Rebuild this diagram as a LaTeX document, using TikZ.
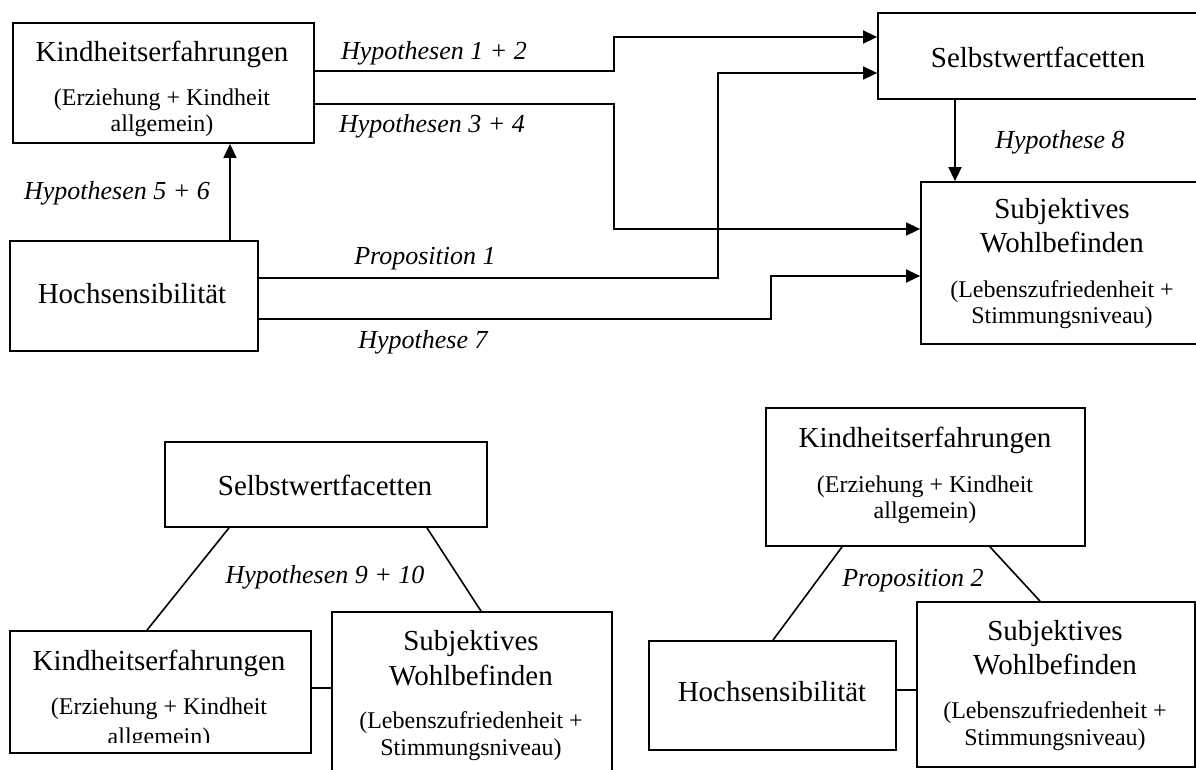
\documentclass[tikz,border=0pt]{standalone}
\usepackage{fontspec}
\setmainfont{Liberation Serif}
\usetikzlibrary{arrows.meta,calc}
\begin{document}
\begin{tikzpicture}[x=1pt,y=-1pt,
  box/.style={draw,line width=1.8pt,inner sep=0pt},
  conn/.style={line width=1.6pt},
  arr/.style={conn,-{Triangle[length=14pt,width=13pt]}},
  big/.style={font=\fontsize{29}{33}\selectfont,anchor=base,inner sep=0pt},
  small/.style={font=\fontsize{24}{28}\selectfont,anchor=base,inner sep=0pt},
  lab/.style={font=\fontsize{26}{30}\selectfont\itshape,anchor=base,inner sep=0pt}]
\useasboundingbox (0,0) rectangle (1196,769);

% ---------- top diagram ----------
\node[box,minimum width=301pt,minimum height=120pt] (k1) at (163.5,83) {};
\node[big]   (k1a) at (162,61)  {Kindheitserfahrungen};
\node[small] (k1b) at (162,105) {(Erziehung + Kindheit};
\node[small] (k1c) at (162,131) {allgemein)};

\node[box,minimum width=248pt,minimum height=110pt] (h1) at (134,296) {};
\node[big] (h1a) at (132,303) {Hochsensibilität};

\node[box,minimum width=332pt,minimum height=86pt] (s1) at (1044,56) {};
\node[big] (s1a) at (1038,67) {Selbstwertfacetten};

\node[box,minimum width=289pt,minimum height=162pt] (sw1) at (1065.5,263) {};
\node[big]   (sw1a) at (1062,218) {Subjektives};
\node[big]   (sw1b) at (1062,252) {Wohlbefinden};
\node[small] (sw1c) at (1062,297) {(Lebenszufriedenheit +};
\node[small] (sw1d) at (1062,323) {Stimmungsniveau)};

\draw[arr] (k1.east |- 0,71) -- (614,71) -- (614,37) -- (s1.west |- 0,37);
\draw[arr] (k1.east |- 0,104) -- (614,104) -- (614,229) -- (sw1.west |- 0,229);
\draw[arr] (h1.east |- 0,278) -- (718,278) -- (718,73) -- (s1.west |- 0,73);
\draw[arr] (h1.east |- 0,319) -- (771,319) -- (771,276) -- (sw1.west |- 0,276);
\draw[arr] (h1.north -| 230,0) -- (k1.south -| 230,0);
\draw[arr] (s1.south -| 955,0) -- (sw1.north -| 955,0);

\node[lab] (l12) at (434,59)  {Hypothesen 1 + 2};
\node[lab] (l34) at (432,132) {Hypothesen 3 + 4};
\node[lab] (l56) at (117,199) {Hypothesen 5 + 6};
\node[lab] (lp1) at (425,264) {Proposition 1};
\node[lab] (l7)  at (423,348) {Hypothese 7};
\node[lab] (l8)  at (1060,148) {Hypothese 8};

% ---------- bottom left diagram ----------
\node[box,minimum width=322pt,minimum height=85pt] (s2) at (326,484.5) {};
\node[big] (s2a) at (325,495) {Selbstwertfacetten};

\node[box,minimum width=301pt,minimum height=122pt] (k2) at (160.5,692) {};
\node[big]   (k2a) at (159,670) {Kindheitserfahrungen};
\node[small] (k2b) at (159,714) {(Erziehung + Kindheit};
\begin{scope}
  \clip (12,700) rectangle (309,742);
  \node[small] (k2c) at (159,744) {allgemein)};
\end{scope}

\node[box,minimum width=280pt,minimum height=178pt] (sw2) at (472,701) {};
\node[big]   (sw2a) at (471,650) {Subjektives};
\node[big]   (sw2b) at (471,685) {Wohlbefinden};
\node[small] (sw2c) at (471,728) {(Lebenszufriedenheit +};
\node[small] (sw2d) at (471,755) {Stimmungsniveau)};

\draw[conn] (s2.south -| 229,0) -- (k2.north -| 147,0);
\draw[conn] (s2.south -| 427,0) -- (sw2.north -| 481,0);
\draw[conn] (k2.east |- 0,688) -- (sw2.west |- 0,688);
\node[lab] (l910) at (325,583) {Hypothesen 9 + 10};

% ---------- bottom right diagram ----------
\node[box,minimum width=319pt,minimum height=138pt] (k3) at (925.5,477) {};
\node[big]   (k3a) at (925,447) {Kindheitserfahrungen};
\node[small] (k3b) at (925,492) {(Erziehung + Kindheit};
\node[small] (k3c) at (925,518) {allgemein)};

\node[box,minimum width=247pt,minimum height=109pt] (h3) at (772.5,695.5) {};
\node[big] (h3a) at (772,701) {Hochsensibilität};

\node[box,minimum width=278pt,minimum height=165pt] (sw3) at (1056,684.5) {};
\node[big]   (sw3a) at (1055,640) {Subjektives};
\node[big]   (sw3b) at (1055,674) {Wohlbefinden};
\node[small] (sw3c) at (1055,718) {(Lebenszufriedenheit +};
\node[small] (sw3d) at (1055,745) {Stimmungsniveau)};

\draw[conn] (k3.south -| 842,0) -- (h3.north -| 773,0);
\draw[conn] (k3.south -| 990,0) -- (sw3.north -| 1040,0);
\draw[conn] (h3.east |- 0,690) -- (sw3.west |- 0,690);
\node[lab] (lp2) at (913,586) {Proposition 2};
\end{tikzpicture}
\end{document}
